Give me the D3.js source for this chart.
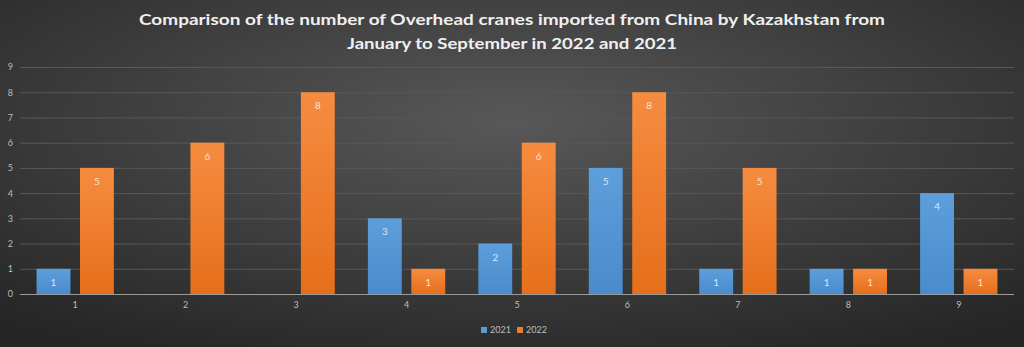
<!DOCTYPE html>
<html><head><meta charset="utf-8">
<script src="https://cdn.jsdelivr.net/npm/d3@7"></script>
<style>html,body{margin:0;padding:0;background:#333;}svg{display:block;}</style>
</head><body>
<script>
const categories = ["1","2","3","4","5","6","7","8","9"];
const seriesNames = ["2021","2022"];
const values2021 = [1,0,0,3,2,5,1,1,4];
const values2022 = [5,6,8,1,6,8,5,1,1];
const yTicks = [0,1,2,3,4,5,6,7,8,9];
const titleLines = ["Comparison of the number of Overhead cranes imported from China by Kazakhstan from","January to September in 2022 and 2021"];

(function(){
const W = 1024, H = 347;
const svg = d3.select("body").append("svg").attr("width", W).attr("height", H);
const defs = svg.append("defs");
const bg = defs.append("radialGradient").attr("id","bg").attr("cx","50%").attr("cy","35%").attr("r","75%");
bg.append("stop").attr("offset","0%").attr("stop-color","#585858");
bg.append("stop").attr("offset","100%").attr("stop-color","#262626");
const gb = defs.append("linearGradient").attr("id","gBlue").attr("x1",0).attr("y1",0).attr("x2",0).attr("y2",1);
gb.append("stop").attr("offset","0%").attr("stop-color","#5d9fdc");
gb.append("stop").attr("offset","100%").attr("stop-color","#4a8bcc");
const go = defs.append("linearGradient").attr("id","gOrange").attr("x1",0).attr("y1",0).attr("x2",0).attr("y2",1);
go.append("stop").attr("offset","0%").attr("stop-color","#f68c40");
go.append("stop").attr("offset","100%").attr("stop-color","#e56f1b");

svg.append("rect").attr("width",W).attr("height",H).attr("fill","url(#bg)");

const pLeft = 20, pRight = 1014, pTop = 67, pBottom = 294;
const x0 = d3.scaleBand().domain(categories).range([pLeft,pRight]).paddingInner(0.3).paddingOuter(0.15);
const xCat = d3.scaleBand().domain(categories).range([pLeft,pRight]);
const x1 = d3.scaleBand().domain(seriesNames).range([0,x0.bandwidth()]).paddingInner(0.22);
const y = d3.scaleLinear().domain([0,9]).range([pBottom,pTop]);

svg.append("g").selectAll("line").data(yTicks.filter(d=>d>0)).join("line")
  .attr("x1",pLeft).attr("x2",pRight).attr("y1",d=>y(d)+0.5).attr("y2",d=>y(d)+0.5)
  .attr("stroke","#585858").attr("stroke-width",1);

const yAxis = d3.axisLeft(y).tickValues(yTicks).tickSize(0).tickPadding(0);
const yg = svg.append("g").attr("transform",`translate(13,0)`).call(yAxis);
yg.select(".domain").remove();
yg.selectAll("text").attr("fill","#bdbdbd").attr("font-size","9px").attr("font-family","Lato, 'Open Sans', sans-serif").attr("text-anchor","end");

svg.append("g").selectAll("text").data(titleLines).join("text")
  .attr("x",512).attr("y",(d,i)=>25+i*24).attr("text-anchor","middle")
  .attr("fill","#f0f0f0").attr("font-size","15.5px").attr("font-weight","bold")
  .attr("font-family","Lato, 'Open Sans', sans-serif")
  .attr("textLength",(d,i)=> i===0 ? 746 : 330).attr("lengthAdjust","spacingAndGlyphs")
  .text(d=>d);

const data = categories.map((c,i)=>({c, vals:[{s:"2021",v:values2021[i]},{s:"2022",v:values2022[i]}]}));
const groups = svg.append("g").selectAll("g").data(data).join("g")
  .attr("transform",d=>`translate(${x0(d.c)},0)`);
const bars = groups.selectAll("g").data(d=>d.vals.filter(v=>v.v>0)).join("g");
bars.append("rect")
  .attr("x",d=>x1(d.s)).attr("width",x1.bandwidth())
  .attr("y",d=>y(d.v)).attr("height",d=>y(0)-y(d.v))
  .attr("fill",d=>d.s==="2021"?"url(#gBlue)":"url(#gOrange)");
bars.append("text")
  .attr("x",d=>x1(d.s)+x1.bandwidth()/2).attr("y",d=>y(d.v)+17)
  .attr("text-anchor","middle").attr("font-size","10px")
  .attr("font-family","Lato, 'Open Sans', sans-serif")
  .attr("fill",d=>d.s==="2021"?"#d6e6f7":"#fde2cc")
  .text(d=>d.v);

svg.append("line").attr("x1",pLeft).attr("x2",pRight).attr("y1",pBottom+0.5).attr("y2",pBottom+0.5)
  .attr("stroke","#9a9a9a").attr("stroke-width",1);
const xAxis = d3.axisBottom(xCat).tickSize(0).tickPadding(0);
const xg = svg.append("g").attr("transform",`translate(0,${pBottom+8})`).call(xAxis);
xg.select(".domain").remove();
xg.selectAll("text").attr("fill","#bdbdbd").attr("font-size","9px").attr("font-family","Lato, 'Open Sans', sans-serif").attr("dy","0.71em");

const leg = svg.append("g").attr("transform","translate(481,327)");
const legItems = [{s:"2021",c:"#5b9bd5",x:0},{s:"2022",c:"#ed7d31",x:36}];
const li = leg.selectAll("g").data(legItems).join("g").attr("transform",d=>`translate(${d.x},0)`);
li.append("rect").attr("width",6).attr("height",6).attr("fill",d=>d.c);
li.append("text").attr("x",9).attr("y",6).attr("fill","#bdbdbd").attr("font-size","9px")
  .attr("font-family","Lato, 'Open Sans', sans-serif").text(d=>d.s);
})();
</script>
</body></html>
